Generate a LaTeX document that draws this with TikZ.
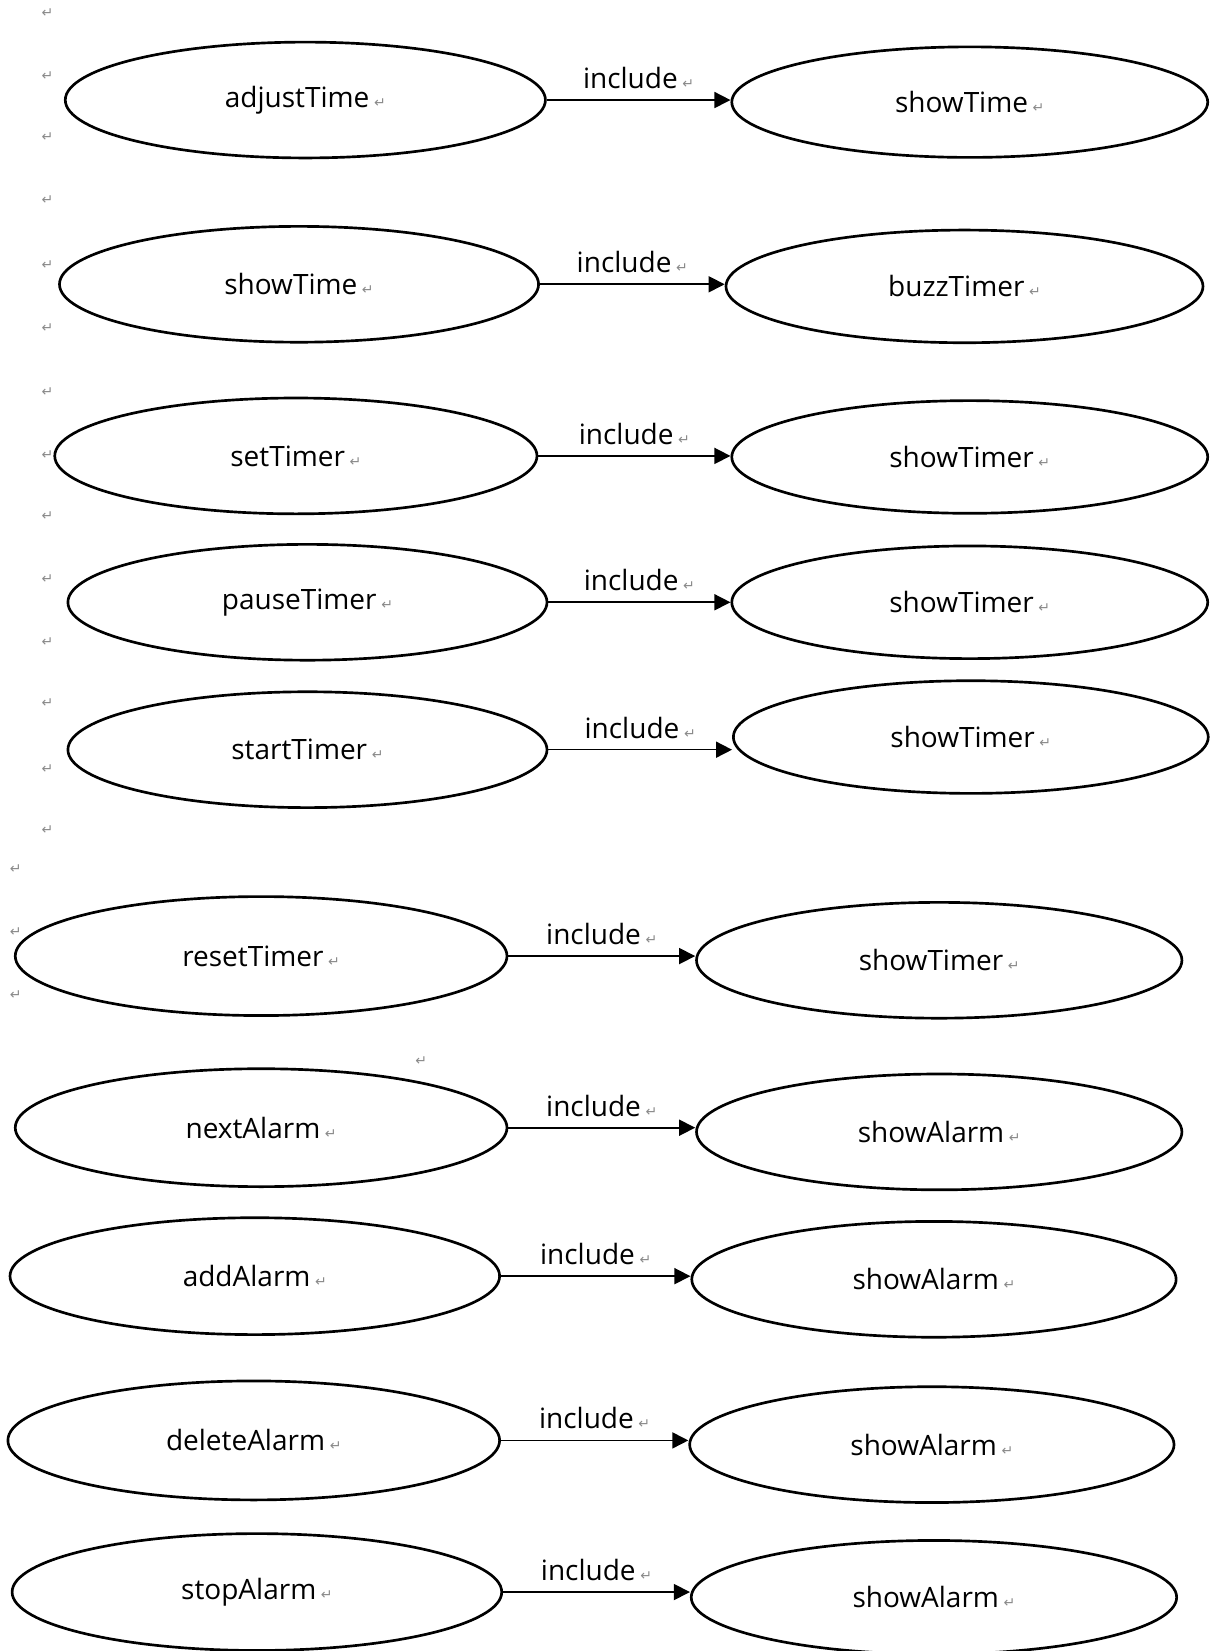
\documentclass[tikz,border=0pt]{standalone}
\usepackage{fontspec}
\setmainfont{Open Sans}
\newfontfamily\markfont{DejaVu Sans}
\usetikzlibrary{shapes.geometric,arrows.meta}
\definecolor{pmgray}{HTML}{8A8A8A}
\newcommand\pmk{\,{\markfont\fontsize{10.5}{10.5}\selectfont\textcolor{pmgray}{↵}}}
\tikzset{
  uc/.style={ellipse, draw, line width=2pt, inner sep=0pt, font=\fontsize{21}{25}\selectfont},
  esz/.style 2 args={minimum width=#1*0.7898pt, minimum height=#2*0.7898pt},
  conn/.style={line width=1.2pt, -{Triangle[length=12pt,width=12pt]}},
  lab/.style={anchor=base, yshift=8.7pt, inner sep=0pt, font=\fontsize{21}{25}\selectfont},
  pm/.style={inner sep=0pt, text=pmgray, font=\markfont\fontsize{10.5}{10.5}\selectfont}
}
\newcommand\lt[1]{\raisebox{-2pt}{#1\pmk}}
\begin{document}
\begin{tikzpicture}[x=0.7898pt,y=-0.7898pt]
\useasboundingbox (0,0) rectangle (1150,1568);
% row 1
\node[uc, esz={456}{110}] (l1) at (290,95) {\lt{adjustTime}};
\node[uc, esz={452}{105}] (r1) at (921,97) {\lt{showTime}};
% row 2
\node[uc, esz={455}{110}] (l2) at (284,270) {\lt{showTime}};
\node[uc, esz={453}{107}] (r2) at (916,272) {\lt{buzzTimer}};
% row 3
\node[uc, esz={458}{110}] (l3) at (281,433) {\lt{setTimer}};
\node[uc, esz={452}{107}] (r3) at (921,434) {\lt{showTimer}};
% row 4
\node[uc, esz={455}{110}] (l4) at (292,572) {\lt{pauseTimer}};
\node[uc, esz={452}{107}] (r4) at (921,572) {\lt{showTimer}};
% row 5
\node[uc, esz={455}{110}] (l5) at (292,712) {\lt{startTimer}};
\node[uc, esz={451}{107}] (r5) at (922,700) {\lt{showTimer}};
% row 6
\node[uc, esz={467}{113}] (l6) at (248,908) {\lt{resetTimer}};
\node[uc, esz={461}{110}] (r6) at (892,912) {\lt{showTimer}};
% row 7
\node[uc, esz={467}{112}] (l7) at (248,1071) {\lt{nextAlarm}};
\node[uc, esz={461}{110}] (r7) at (892,1075) {\lt{showAlarm}};
% row 8
\node[uc, esz={465}{111}] (l8) at (242,1212) {\lt{addAlarm}};
\node[uc, esz={460}{110}] (r8) at (887,1215) {\lt{showAlarm}};
% row 9
\node[uc, esz={467}{113}] (l9) at (241,1368) {\lt{deleteAlarm}};
\node[uc, esz={460}{110}] (r9) at (885,1372) {\lt{showAlarm}};
% row 10
\node[uc, esz={465}{111}] (l10) at (244,1512) {\lt{stopAlarm}};
\node[uc, esz={461}{108}] (r10) at (887,1517) {\lt{showAlarm}};
% connectors
\foreach \i in {1,...,10}{
  \draw[conn] (l\i.east) -- (l\i.east -| r\i.west) node[lab, midway] (i\i) {include\pmk};
}
% paragraph marks
\node[pm] (p1) at (45,12) {↵};
\node[pm] (p2) at (45,72) {↵};
\node[pm] (p3) at (45,130) {↵};
\node[pm] (p4) at (45,190) {↵};
\node[pm] (p5) at (45,252) {↵};
\node[pm] (p6) at (45,312) {↵};
\node[pm] (p7) at (45,372) {↵};
\node[pm] (p8) at (45,432) {↵};
\node[pm] (p9) at (45,490) {↵};
\node[pm] (p10) at (45,550) {↵};
\node[pm] (p11) at (45,610) {↵};
\node[pm] (p12) at (45,668) {↵};
\node[pm] (p13) at (45,730) {↵};
\node[pm] (p14) at (45,788) {↵};
\node[pm] (p15) at (15,825) {↵};
\node[pm] (p16) at (15,885) {↵};
\node[pm] (p17) at (15,945) {↵};
\node[pm] (p18) at (400,1008) {↵};
\end{tikzpicture}
\end{document}
